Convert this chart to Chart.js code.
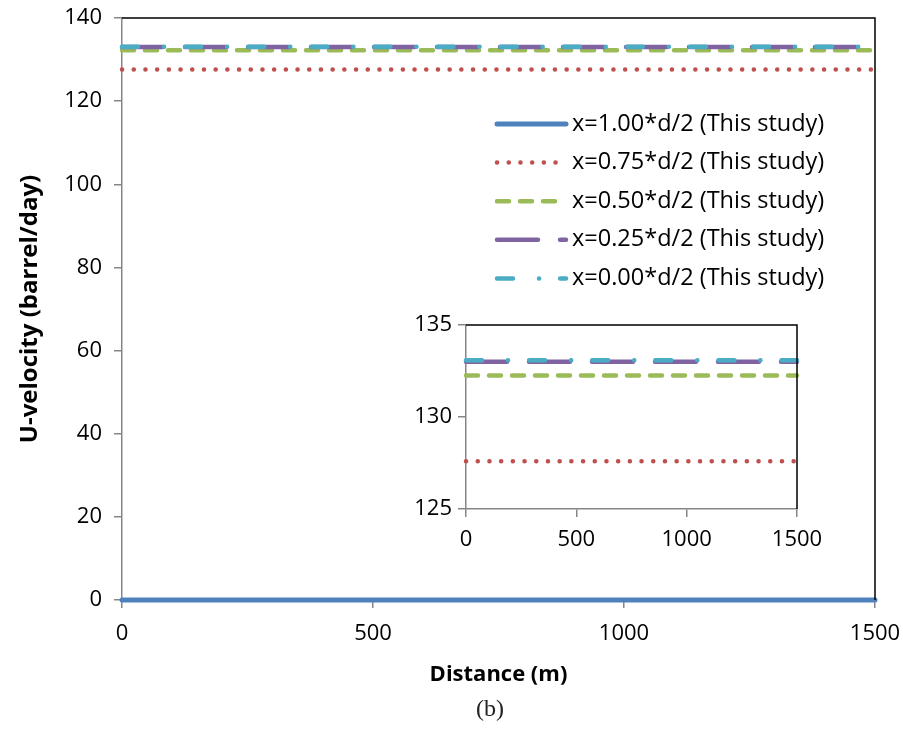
<!DOCTYPE html>
<html>
<head>
<meta charset="utf-8">
<script src="https://cdn.jsdelivr.net/npm/chart.js@4/dist/chart.umd.min.js"></script>
<style>
  html, body { margin: 0; padding: 0; background: #fff; }
  #wrap { position: relative; width: 903px; height: 749px; }
  #main { position: absolute; left: 0; top: 0; }
  #inset { position: absolute; left: 380px; top: 310px; }
  #caption {
    position: absolute; left: 0; width: 980px; top: 695px;
    text-align: center; font: 24px "Liberation Serif", serif; color: #222;
  }
</style>
</head>
<body>
<div id="wrap">
  <canvas id="main" width="903" height="749"></canvas>
  <canvas id="inset" width="450" height="260"></canvas>
  <div id="caption">(b)</div>
</div>
<script>
// distance along the line (m)
const distance = [0, 250, 500, 750, 1000, 1250, 1500];

// U-velocity (barrel/day) at each radial position
const u100 = [0, 0, 0, 0, 0, 0, 0];
const u075 = [127.6, 127.6, 127.6, 127.6, 127.6, 127.6, 127.6];
const u050 = [132.25, 132.25, 132.25, 132.25, 132.25, 132.25, 132.25];
const u025 = [133.0, 133.0, 133.0, 133.0, 133.0, 133.0, 133.0];
const u000 = [133.08, 133.08, 133.08, 133.08, 133.08, 133.08, 133.08];

const seriesLabels = [
  "x=1.00*d/2 (This study)",
  "x=0.75*d/2 (This study)",
  "x=0.50*d/2 (This study)",
  "x=0.25*d/2 (This study)",
  "x=0.00*d/2 (This study)"
];

const mainTicks = { min: 0, max: 140, step: 20 };
const insetTicks = { min: 125, max: 135, step: 5 };
const xTicks = { min: 0, max: 1500, step: 500 };

const axisGrey = "#868686";
const tickFont = { family: "'Open Sans'", size: 22 };

function makeDatasets() {
  const series = [u100, u075, u050, u025, u000];
  const styles = [
    { color: "#4F81BD", dash: [], width: 5 },
    { color: "#C0504D", dash: [0.1, 11.6], width: 4.5 },
    { color: "#9BBB59", dash: [12, 11], width: 4.5 },
    { color: "#8064A2", dash: [41, 22], width: 4.5 },
    { color: "#4BACC6", dash: [16, 26, 0.1, 21], width: 4.5 }
  ];
  return series.map((vals, i) => ({
    label: seriesLabels[i],
    data: distance.map((d, j) => ({ x: d, y: vals[j] })),
    borderColor: styles[i].color,
    backgroundColor: styles[i].color,
    borderWidth: styles[i].width,
    borderDash: styles[i].dash,
    borderCapStyle: "round",
    pointRadius: 0,
    tension: 0,
    clip: 4,
    order: series.length - i   // later series on top, like excel
  }));
}

// top and right edges of the plot area in black
const frame = {
  id: "frame",
  afterDraw(chart) {
    const { ctx, chartArea: a } = chart;
    ctx.save();
    ctx.strokeStyle = "#000";
    ctx.lineWidth = 1.5;
    ctx.beginPath();
    ctx.moveTo(a.left, a.top);
    ctx.lineTo(a.right, a.top);
    ctx.lineTo(a.right, a.bottom);
    ctx.stroke();
    ctx.restore();
  }
};

// legend drawn inside the plot like the excel one
const insideLegend = {
  id: "insideLegend",
  afterDatasetsDraw(chart) {
    const ctx = chart.ctx;
    const x0 = 497, x1 = 566, tx = 572, y0 = 124, gap = 38.6;
    ctx.save();
    chart.data.datasets.forEach((ds, i) => {
      const y = y0 + i * gap;
      ctx.strokeStyle = ds.borderColor;
      ctx.lineWidth = ds.borderWidth;
      ctx.lineCap = "round";
      ctx.setLineDash(ds.borderDash);
      ctx.beginPath();
      ctx.moveTo(x0, y);
      ctx.lineTo(x1, y);
      ctx.stroke();
      ctx.setLineDash([]);
      ctx.fillStyle = "#000";
      ctx.font = "23.5px 'Open Sans'";
      ctx.textBaseline = "middle";
      ctx.fillText(ds.label, tx, y);
    });
    ctx.restore();
  }
};

const plain = v => String(v);

function axisX(height, padding, title) {
  return {
    type: "linear",
    min: xTicks.min, max: xTicks.max,
    ticks: { stepSize: xTicks.step, color: "#000", font: tickFont, padding: padding, maxRotation: 0, callback: plain },
    grid: { drawOnChartArea: false, drawTicks: true, tickLength: 8, color: axisGrey, lineWidth: 1.5 },
    border: { display: true, color: axisGrey, width: 1.5 },
    title: title,
    afterFit(s) { s.height = height; s.paddingLeft = 0; s.paddingRight = 0; }
  };
}

function axisY(lim, width, padding, title) {
  return {
    type: "linear",
    min: lim.min, max: lim.max,
    ticks: { stepSize: lim.step, color: "#000", font: tickFont, padding: padding, callback: plain },
    grid: { drawOnChartArea: false, drawTicks: true, tickLength: 8, color: axisGrey, lineWidth: 1.5 },
    border: { display: true, color: axisGrey, width: 1.5 },
    title: title,
    afterFit(s) { s.width = width; s.paddingTop = 0; s.paddingBottom = 0; }
  };
}

new Chart(document.getElementById("main"), {
  type: "line",
  data: { datasets: makeDatasets() },
  options: {
    responsive: false,
    animation: false,
    layout: { padding: { left: 0, top: 18, right: 28, bottom: 0 } },
    plugins: { legend: { display: false }, tooltip: { enabled: false } },
    scales: {
      x: axisX(149, 13, {
        display: true, text: "Distance (m)", color: "#000",
        font: { family: "'Open Sans'", size: 22, weight: "bold" },
        padding: { top: 0, bottom: 61 }
      }),
      y: axisY(mainTicks, 122, 12, {
        display: true, text: "U-velocity (barrel/day)", color: "#000",
        font: { family: "'Open Sans'", size: 24, weight: "bold" },
        padding: { top: 16, bottom: 0 }
      })
    }
  },
  plugins: [frame, insideLegend]
});

new Chart(document.getElementById("inset"), {
  type: "line",
  data: { datasets: makeDatasets() },
  options: {
    responsive: false,
    animation: false,
    layout: { padding: { left: 0, top: 15, right: 33, bottom: 0 } },
    plugins: { legend: { display: false }, tooltip: { enabled: false } },
    scales: {
      x: axisX(61, 10, { display: false }),
      y: axisY(insetTicks, 86, 6, { display: false })
    }
  },
  plugins: [frame]
});
</script>
</body>
</html>
